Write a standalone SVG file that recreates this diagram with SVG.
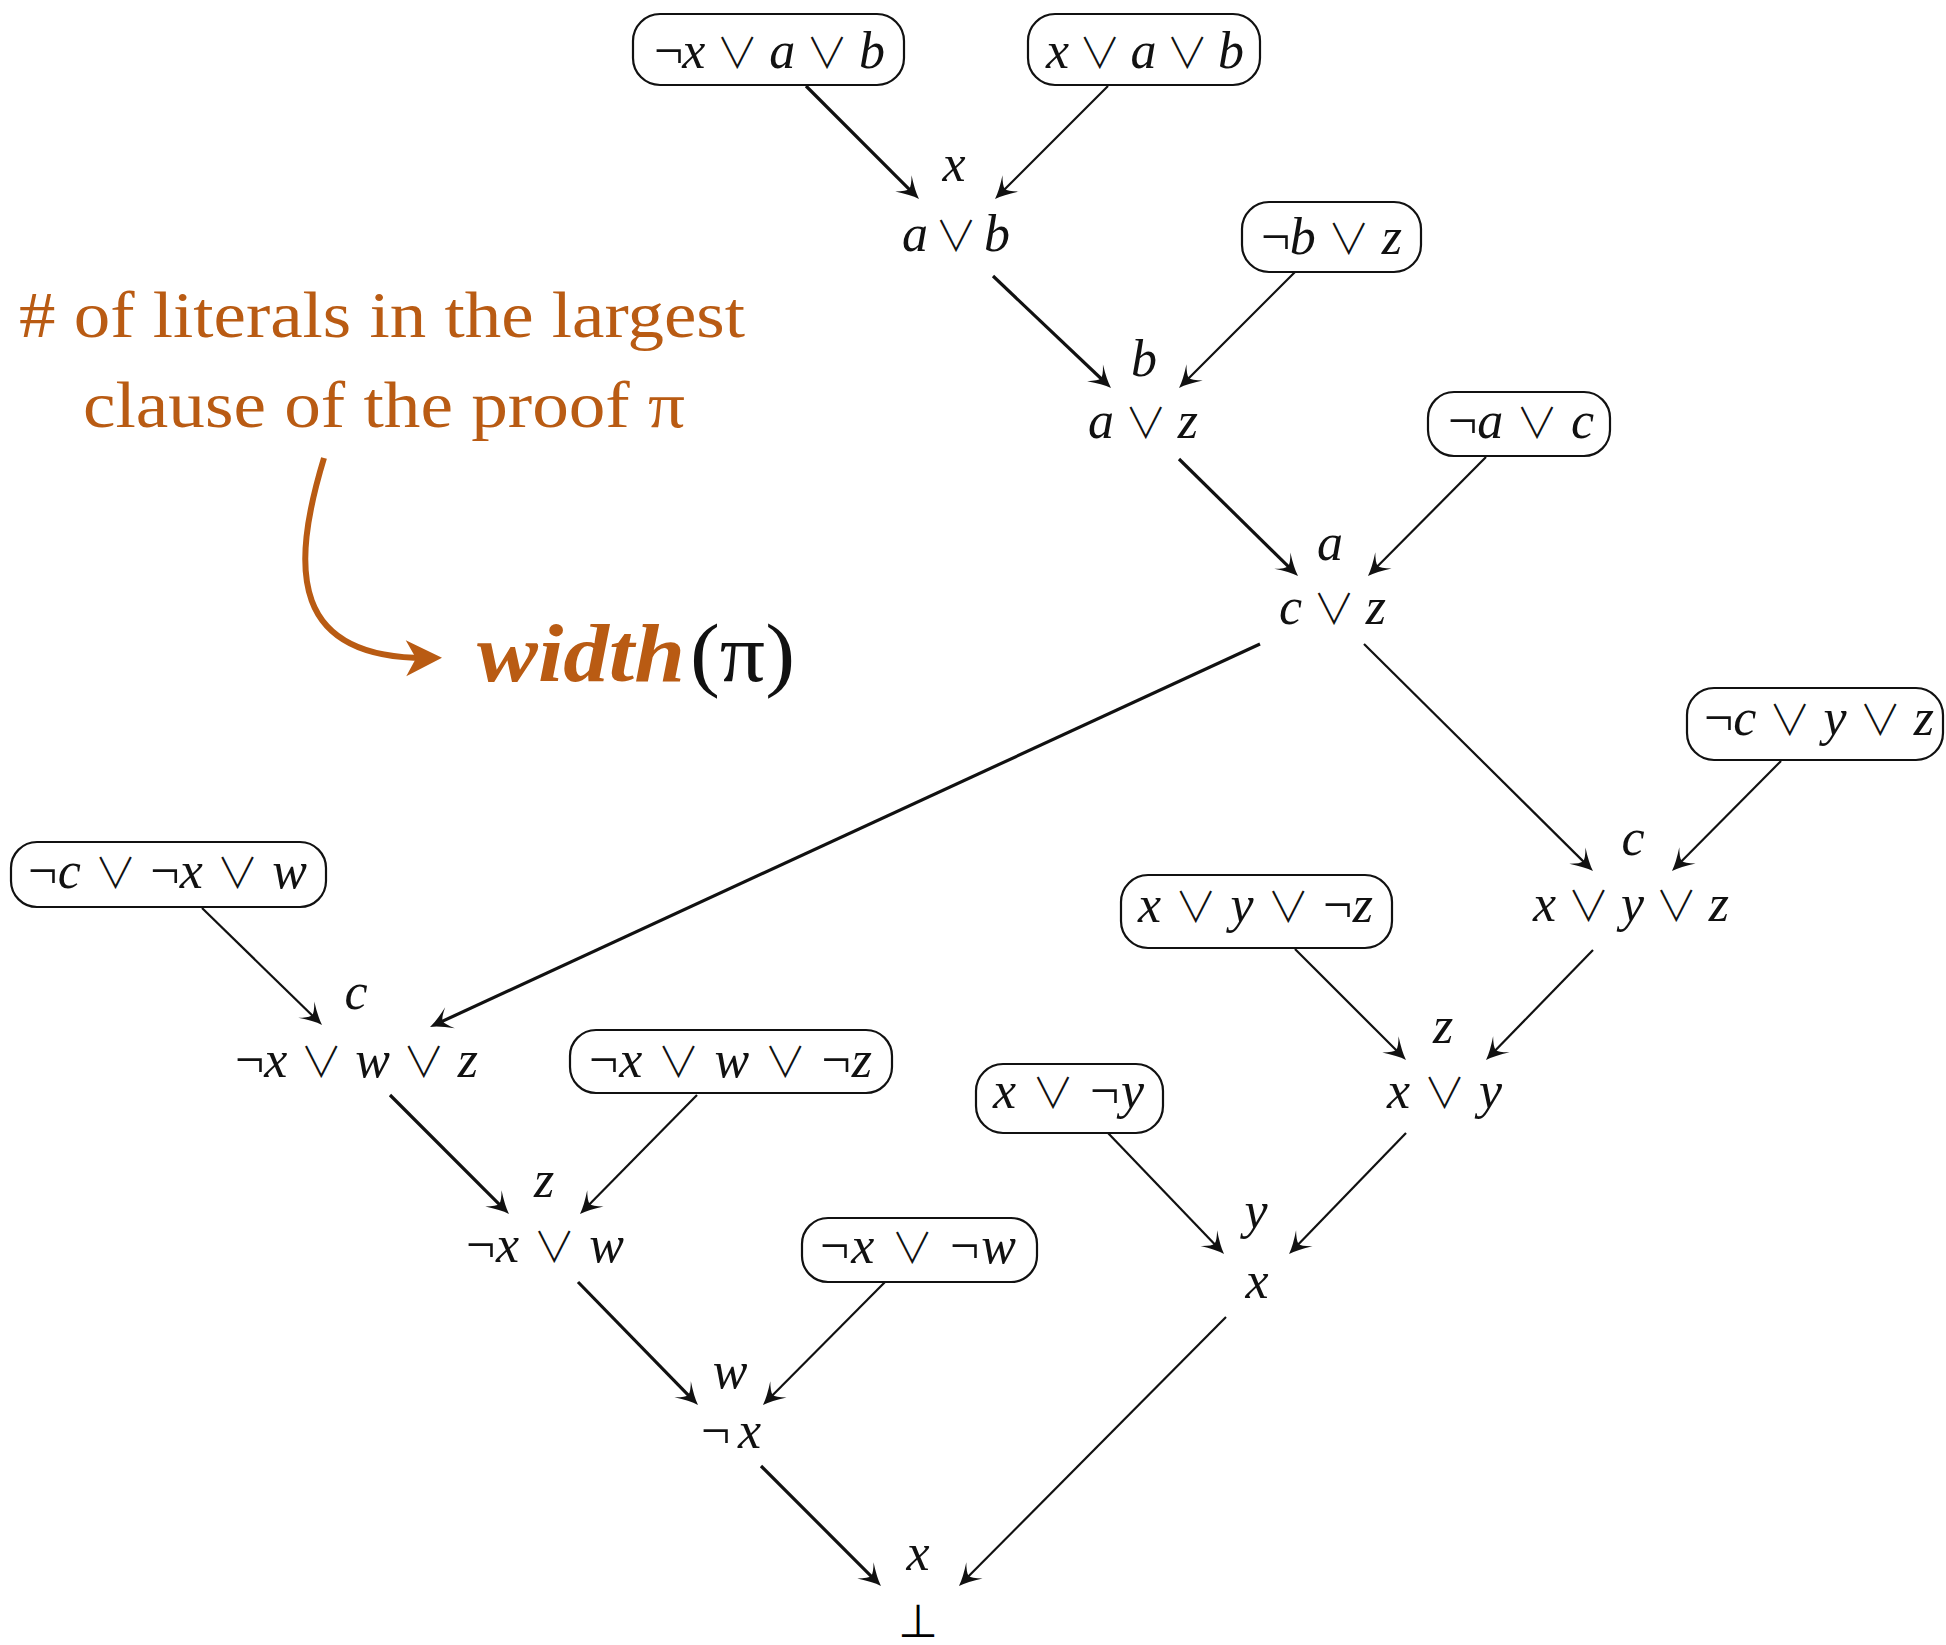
<svg xmlns="http://www.w3.org/2000/svg" width="1946" height="1645" viewBox="0 0 1946 1645">
<style>
.box{fill:#fff;stroke:#111;stroke-width:2.2}
.m{font-family:"Liberation Serif",serif;font-size:52px;font-style:italic;fill:#111}
.n{font-style:normal}
.op{font-family:"Noto Sans CJK JP","DejaVu Sans",sans-serif;font-style:normal;font-weight:300;font-size:42px}
.bt{font-family:"DejaVu Sans",sans-serif;font-style:normal;font-size:46px}
.e{fill:none;stroke:#111;stroke-width:2.2;marker-end:url(#ah)}
.t{stroke-width:3.2}
.ann{font-family:"Liberation Serif",serif;font-size:66px;fill:#B95B13}
</style>
<defs>
<marker id="ah" markerUnits="userSpaceOnUse" viewBox="-26 -14 28 28" refX="-8" refY="0" markerWidth="28" markerHeight="28" orient="auto">
<path d="M0,0 Q-9,-3 -22,-11.5 Q-14,-3.5 -14,0 Q-14,3.5 -22,11.5 Q-9,3 0,0 Z" fill="#111"/>
</marker>
<marker id="oh" markerUnits="userSpaceOnUse" viewBox="-40 -20 44 40" refX="-10" refY="0" markerWidth="44" markerHeight="40" orient="auto">
<path d="M2,0 L-34,-18 L-24,0 L-34,18 Z" fill="#B95B13"/>
</marker>
</defs>
<rect width="1946" height="1645" fill="#fff"/>

<g id="connectors">
<line class="e t" x1="806" y1="86" x2="913.3" y2="193.3"/>
<line class="e" x1="1108" y1="86" x2="1000.7" y2="193.3"/>
<line class="e t" x1="993" y1="276" x2="1105.2" y2="382.5"/>
<line class="e" x1="1295" y1="272" x2="1184.7" y2="382.3"/>
<line class="e t" x1="1179" y1="459" x2="1292.3" y2="570.4"/>
<line class="e" x1="1486" y1="457" x2="1373.6" y2="570.3"/>
<line class="e t" x1="1260" y1="644" x2="437.3" y2="1023.6"/>
<line class="e" x1="1364" y1="644" x2="1587.3" y2="865.4"/>
<line class="e" x1="1781" y1="761" x2="1677.6" y2="865.3"/>
<line class="e" x1="202" y1="908" x2="316.3" y2="1019.4"/>
<line class="e" x1="1295" y1="949" x2="1400.3" y2="1054.3"/>
<line class="e" x1="1593" y1="950" x2="1491.6" y2="1054.3"/>
<line class="e t" x1="390" y1="1095" x2="503.3" y2="1208.3"/>
<line class="e" x1="697" y1="1095" x2="585.6" y2="1208.3"/>
<line class="e" x1="1108" y1="1133" x2="1218.5" y2="1248.2"/>
<line class="e" x1="1406" y1="1133" x2="1294.6" y2="1248.2"/>
<line class="e t" x1="578" y1="1282" x2="692.4" y2="1399.3"/>
<line class="e" x1="885" y1="1282" x2="768.6" y2="1399.3"/>
<line class="e t" x1="761" y1="1466" x2="875.3" y2="1580.3"/>
<line class="e" x1="1226" y1="1317" x2="964.6" y2="1580.3"/>
</g>

<g id="n-b1"><rect class="box" x="633" y="14" width="271" height="71" rx="27"/>
<text class="m" x="654" y="68" textLength="231" lengthAdjust="spacing"><tspan class="n">¬</tspan>x <tspan class="op">∨</tspan> a <tspan class="op">∨</tspan> b</text></g>
<g id="n-b2"><rect class="box" x="1028" y="14" width="232" height="71" rx="27"/>
<text class="m" x="1046" y="68" textLength="198" lengthAdjust="spacing">x <tspan class="op">∨</tspan> a <tspan class="op">∨</tspan> b</text></g>
<g id="n-ab"><text class="m" x="954" y="181" text-anchor="middle">x</text>
<text class="m" x="902" y="251" textLength="108" lengthAdjust="spacing">a <tspan class="op">∨</tspan> b</text></g>
<g id="n-b3"><rect class="box" x="1242" y="202" width="179" height="70" rx="27"/>
<text class="m" x="1261" y="254" textLength="141" lengthAdjust="spacing"><tspan class="n">¬</tspan>b <tspan class="op">∨</tspan> z</text></g>
<g id="n-az"><text class="m" x="1144" y="376" text-anchor="middle">b</text>
<text class="m" x="1088" y="438" textLength="110" lengthAdjust="spacing">a <tspan class="op">∨</tspan> z</text></g>
<g id="n-b4"><rect class="box" x="1428" y="392" width="182" height="64" rx="26"/>
<text class="m" x="1448" y="438" textLength="146" lengthAdjust="spacing"><tspan class="n">¬</tspan>a <tspan class="op">∨</tspan> c</text></g>
<g id="n-cz"><text class="m" x="1330" y="560" text-anchor="middle">a</text>
<text class="m" x="1279" y="624" textLength="107" lengthAdjust="spacing">c <tspan class="op">∨</tspan> z</text></g>
<g id="n-b5"><rect class="box" x="1687" y="688" width="256" height="72" rx="27"/>
<text class="m" x="1704" y="735" textLength="230" lengthAdjust="spacing"><tspan class="n">¬</tspan>c <tspan class="op">∨</tspan> y <tspan class="op">∨</tspan> z</text></g>
<g id="n-xyz"><text class="m" x="1633" y="855" text-anchor="middle">c</text>
<text class="m" x="1533" y="921" textLength="196" lengthAdjust="spacing">x <tspan class="op">∨</tspan> y <tspan class="op">∨</tspan> z</text></g>
<g id="n-b6"><rect class="box" x="11" y="842" width="315" height="65" rx="26"/>
<text class="m" x="28" y="888" textLength="279" lengthAdjust="spacing"><tspan class="n">¬</tspan>c <tspan class="op">∨</tspan> <tspan class="n">¬</tspan>x <tspan class="op">∨</tspan> w</text></g>
<g id="n-xwz"><text class="m" x="356" y="1009" text-anchor="middle">c</text>
<text class="m" x="235" y="1077" textLength="243" lengthAdjust="spacing"><tspan class="n">¬</tspan>x <tspan class="op">∨</tspan> w <tspan class="op">∨</tspan> z</text></g>
<g id="n-b7"><rect class="box" x="1121" y="875" width="271" height="73" rx="27"/>
<text class="m" x="1138" y="922" textLength="235" lengthAdjust="spacing">x <tspan class="op">∨</tspan> y <tspan class="op">∨</tspan> <tspan class="n">¬</tspan>z</text></g>
<g id="n-xy"><text class="m" x="1443" y="1043" text-anchor="middle">z</text>
<text class="m" x="1387" y="1108" textLength="115" lengthAdjust="spacing">x <tspan class="op">∨</tspan> y</text></g>
<g id="n-b8"><rect class="box" x="570" y="1030" width="322" height="63" rx="26"/>
<text class="m" x="589" y="1077" textLength="283" lengthAdjust="spacing"><tspan class="n">¬</tspan>x <tspan class="op">∨</tspan> w <tspan class="op">∨</tspan> <tspan class="n">¬</tspan>z</text></g>
<g id="n-xw"><text class="m" x="544" y="1197" text-anchor="middle">z</text>
<text class="m" x="466" y="1262" textLength="158" lengthAdjust="spacing"><tspan class="n">¬</tspan>x <tspan class="op">∨</tspan> w</text></g>
<g id="n-b9"><rect class="box" x="976" y="1064" width="187" height="69" rx="27"/>
<text class="m" x="993" y="1108" textLength="151" lengthAdjust="spacing">x <tspan class="op">∨</tspan> <tspan class="n">¬</tspan>y</text></g>
<g id="n-x"><text class="m" x="1256" y="1228" text-anchor="middle">y</text>
<text class="m" x="1257" y="1298" text-anchor="middle">x</text></g>
<g id="n-b10"><rect class="box" x="802" y="1218" width="235" height="64" rx="26"/>
<text class="m" x="820" y="1263" textLength="196" lengthAdjust="spacing"><tspan class="n">¬</tspan>x <tspan class="op">∨</tspan> <tspan class="n">¬</tspan>w</text></g>
<g id="n-nx"><text class="m" x="730" y="1388" text-anchor="middle">w</text>
<text class="m" x="701" y="1448" textLength="60" lengthAdjust="spacing"><tspan class="n">¬</tspan>x</text></g>
<g id="n-bot"><text class="m" x="918" y="1570" text-anchor="middle">x</text>
<text class="bt" x="918" y="1637" text-anchor="middle">⊥</text></g>

<g id="annotation">
<text class="ann" x="19" y="337" textLength="726" lengthAdjust="spacingAndGlyphs"># of literals in the largest</text>
<text class="ann" x="83" y="427" textLength="602" lengthAdjust="spacingAndGlyphs">clause of the proof π</text>
<path d="M324,458 C290,570 290,660 430,658" fill="none" stroke="#B95B13" stroke-width="6" marker-end="url(#oh)"/>
<text class="ann" x="477" y="681" style="font-size:82px;font-style:italic;font-weight:bold" textLength="208" lengthAdjust="spacingAndGlyphs">width</text>
<text x="690" y="681" style="font-family:'Liberation Serif',serif;font-size:82px;fill:#111" textLength="105" lengthAdjust="spacingAndGlyphs">(π)</text>
</g>
</svg>
